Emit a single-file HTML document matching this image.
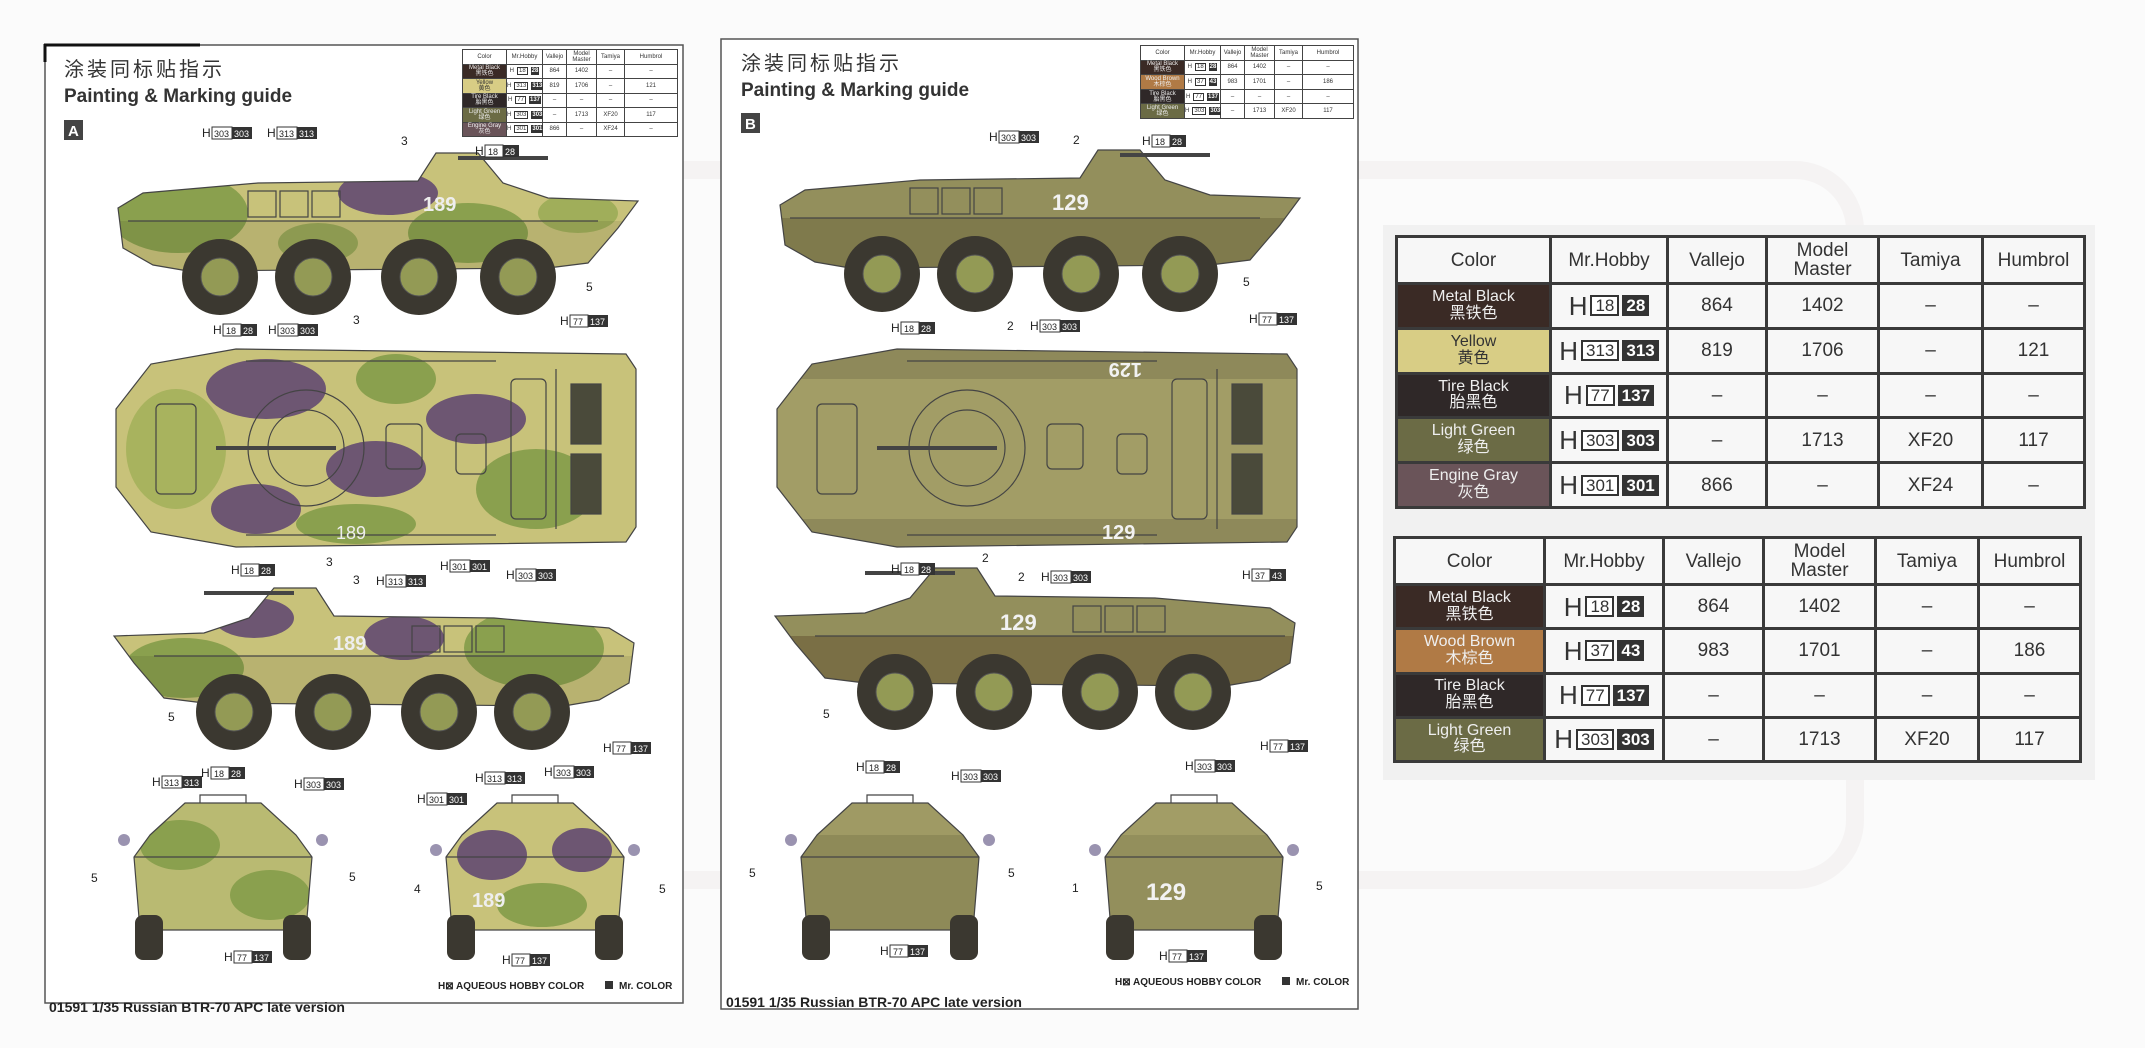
<!DOCTYPE html>
<html><head><meta charset="utf-8">
<style>
body{margin:0;width:2145px;height:1048px;overflow:hidden;background:#fbfbfb;position:relative;font-family:"Liberation Sans","Noto Sans CJK SC",sans-serif;}
.abs{position:absolute}
table{border-collapse:collapse;table-layout:fixed;}
.big td{border:3px solid #3a3a3a;text-align:center;color:#333;font-size:19px;background:#f7f7f7;padding:0;line-height:1}
.big .c{color:#eee;font-size:16px;line-height:1.05}
.mini td{border:1px solid #444;text-align:center;color:#333;font-size:6px;background:#fff;padding:0;line-height:1}
.mini .c{color:#eee}
.hb{display:inline-flex;align-items:center;gap:3px}
.hb b{font-weight:normal}
.hb .w{border:2px solid #333;background:#fff;padding:0 3px;font-size:17px}
.hb .k{background:#333;color:#fff;font-weight:bold;padding:2px 4px;font-size:17px}
.mini .hb .w{border:1px solid #333;padding:0 1px;font-size:6px}
.mini .hb .k{padding:1px 1px;font-size:6px}
</style></head><body>

<svg class="abs" style="left:0;top:0" width="2145" height="1048" viewBox="0 0 2145 1048">
<defs>
 <clipPath id="cs"><path d="M0,55 L25,40 L140,30 L300,28 L318,0 L360,0 L385,30 L430,45 L520,48 L500,75 L470,110 L430,115 L70,118 L35,112 L5,95 Z"/></clipPath>
 <clipPath id="ct"><path d="M0,60 L35,15 L120,0 L510,5 L520,20 L520,178 L510,193 L120,198 L35,183 L0,138 Z"/></clipPath>
 <clipPath id="cf"><path d="M30,40 L65,8 L141,8 L176,40 L192,62 L186,135 L20,135 L14,62 Z"/></clipPath>
 <g id="wheels">
  <g fill="#3b3830"><circle cx="102" cy="124" r="38"/><circle cx="195" cy="124" r="38"/><circle cx="301" cy="124" r="38"/><circle cx="400" cy="124" r="38"/></g>
  <g fill="#939a55" stroke="#555" stroke-width="1"><circle cx="102" cy="124" r="19"/><circle cx="195" cy="124" r="19"/><circle cx="301" cy="124" r="19"/><circle cx="400" cy="124" r="19"/></g>
 </g>
 <g id="sidedet" fill="none" stroke="#444" stroke-width="1.2">
  <path d="M0,55 L25,40 L140,30 L300,28 L318,0 L360,0 L385,30 L430,45 L520,48 L500,75 L470,110 L430,115 L70,118 L35,112 L5,95 Z"/>
  <path d="M10,68 L480,68"/><rect x="130" y="38" width="28" height="26"/><rect x="162" y="38" width="28" height="26"/><rect x="194" y="38" width="28" height="26"/>
  <path d="M340,5 L430,5" stroke-width="4"/>
 </g>
 <g id="topdet" fill="none" stroke="#444" stroke-width="1.2">
  <path d="M0,60 L35,15 L120,0 L510,5 L520,20 L520,178 L510,193 L120,198 L35,183 L0,138 Z"/>
  <circle cx="190" cy="99" r="58"/><circle cx="190" cy="99" r="38"/>
  <path d="M100,99 L220,99" stroke-width="4"/>
  <rect x="270" y="75" width="36" height="45" rx="5"/><rect x="340" y="85" width="30" height="40" rx="5"/>
  <rect x="395" y="30" width="35" height="140" rx="5"/>
  <rect x="455" y="35" width="30" height="60" fill="#4a4a3a"/><rect x="455" y="105" width="30" height="60" fill="#4a4a3a"/>
  <path d="M440,20 L440,180"/><rect x="40" y="55" width="40" height="90" rx="5"/><path d="M130,12 L380,12 M130,186 L380,186"/>
 </g>
 <g id="frontdet" fill="none" stroke="#444" stroke-width="1.2">
  <path d="M30,40 L65,8 L141,8 L176,40 L192,62 L186,135 L20,135 L14,62 Z"/>
  <path d="M14,62 L192,62 M80,8 L80,0 L126,0 L126,8"/>
 </g>
</defs>

<!-- faint watermark -->
<rect x="175" y="170" width="1680" height="710" rx="60" fill="none" stroke="#f5f3f3" stroke-width="18"/>

<!-- page frames -->
<rect x="45" y="45" width="638" height="958" fill="#fff" stroke="#555" stroke-width="1.5"/>
<path d="M44,45 L200,45" stroke="#111" stroke-width="3"/><path d="M45,44 L45,62" stroke="#111" stroke-width="3"/>
<rect x="721" y="39" width="637" height="970" fill="#fff" stroke="#555" stroke-width="1.5"/>

<!-- titles -->
<text x="64" y="76" font-size="20" fill="#333" font-family="Noto Sans CJK SC,sans-serif" letter-spacing="3">涂装同标贴指示</text>
<text x="64" y="102" font-size="19" font-weight="bold" fill="#333" font-family="Liberation Sans,sans-serif">Painting &amp; Marking guide</text>
<rect x="64" y="120" width="19" height="20" fill="#444"/><text x="68" y="136" font-size="15" font-weight="bold" fill="#fff">A</text>
<text x="741" y="70" font-size="20" fill="#333" font-family="Noto Sans CJK SC,sans-serif" letter-spacing="3">涂装同标贴指示</text>
<text x="741" y="96" font-size="19" font-weight="bold" fill="#333" font-family="Liberation Sans,sans-serif">Painting &amp; Marking guide</text>
<rect x="741" y="113" width="19" height="20" fill="#444"/><text x="745" y="129" font-size="15" font-weight="bold" fill="#fff">B</text>

<!-- LEFT PAGE VEHICLES (camo) -->
<g transform="translate(118,153)">
 <g clip-path="url(#cs)"><rect width="520" height="130" fill="#c8c27a"/>
  <ellipse cx="60" cy="60" rx="70" ry="40" fill="#8aa04e"/><ellipse cx="270" cy="40" rx="50" ry="22" fill="#6d5672"/><ellipse cx="350" cy="80" rx="60" ry="30" fill="#8aa04e"/><ellipse cx="200" cy="90" rx="40" ry="20" fill="#9aa858"/><ellipse cx="460" cy="60" rx="40" ry="20" fill="#a0ae5a"/>
  <rect y="68" width="520" height="60" fill="#000" opacity="0.08"/></g>
 <use href="#sidedet"/><use href="#wheels"/>
 <text x="305" y="58" font-size="20" fill="#eee" font-weight="bold">189</text>
</g>
<g transform="translate(116,349)">
 <g clip-path="url(#ct)"><rect width="520" height="198" fill="#c8c27a"/>
  <ellipse cx="150" cy="40" rx="60" ry="30" fill="#6d5672"/><ellipse cx="260" cy="120" rx="50" ry="28" fill="#6d5672"/><ellipse cx="140" cy="160" rx="45" ry="25" fill="#6d5672"/><ellipse cx="360" cy="70" rx="50" ry="25" fill="#6d5672"/><ellipse cx="420" cy="140" rx="60" ry="40" fill="#8aa04e"/><ellipse cx="60" cy="100" rx="50" ry="60" fill="#a8b35e"/><ellipse cx="280" cy="30" rx="40" ry="25" fill="#8aa04e"/><ellipse cx="240" cy="175" rx="60" ry="20" fill="#8aa04e"/>
 </g>
 <use href="#topdet"/>
 <text x="220" y="190" font-size="18" fill="#eee">189</text>
</g>
<g transform="translate(634,588) scale(-1,1)">
 <g clip-path="url(#cs)"><rect width="520" height="130" fill="#c8c27a"/>
  <ellipse cx="100" cy="60" rx="70" ry="40" fill="#8aa04e"/><ellipse cx="230" cy="50" rx="40" ry="22" fill="#6d5672"/><ellipse cx="380" cy="30" rx="40" ry="20" fill="#6d5672"/><ellipse cx="450" cy="80" rx="60" ry="30" fill="#8aa04e"/>
  <rect y="68" width="520" height="60" fill="#000" opacity="0.08"/></g>
 <use href="#sidedet"/><use href="#wheels"/>
</g>
<text x="333" y="650" font-size="20" fill="#eee" font-weight="bold">189</text>
<g transform="translate(120,795)">
 <g clip-path="url(#cf)"><rect width="206" height="140" fill="#b9ba72"/><ellipse cx="60" cy="50" rx="40" ry="25" fill="#8aa04e"/><ellipse cx="150" cy="100" rx="40" ry="25" fill="#8aa04e"/></g>
 <use href="#frontdet"/>
 <rect x="15" y="120" width="28" height="45" rx="8" fill="#3b3830"/><rect x="163" y="120" width="28" height="45" rx="8" fill="#3b3830"/>
 <circle cx="4" cy="45" r="6" fill="#9a93b0"/><circle cx="202" cy="45" r="6" fill="#9a93b0"/>
</g>
<g transform="translate(432,795)">
 <g clip-path="url(#cf)"><rect width="206" height="140" fill="#c8c27a"/><ellipse cx="60" cy="60" rx="35" ry="25" fill="#6d5672"/><ellipse cx="150" cy="55" rx="30" ry="22" fill="#6d5672"/><ellipse cx="110" cy="110" rx="45" ry="22" fill="#8aa04e"/></g>
 <use href="#frontdet"/>
 <rect x="15" y="120" width="28" height="45" rx="8" fill="#3b3830"/><rect x="163" y="120" width="28" height="45" rx="8" fill="#3b3830"/>
 <circle cx="4" cy="55" r="6" fill="#9a93b0"/><circle cx="202" cy="55" r="6" fill="#9a93b0"/>
 <text x="40" y="112" font-size="20" fill="#eee" font-weight="bold">189</text>
</g>

<!-- RIGHT PAGE VEHICLES (olive) -->
<g transform="translate(780,150)">
 <g clip-path="url(#cs)"><rect width="520" height="130" fill="#938f5c"/><rect y="68" width="520" height="60" fill="#7f7a4c"/></g>
 <use href="#sidedet"/><use href="#wheels"/>
 <text x="272" y="60" font-size="22" fill="#f2f2f2" font-weight="bold">129</text>
</g>
<g transform="translate(777,349)">
 <g clip-path="url(#ct)"><rect width="520" height="198" fill="#a29d66"/><rect y="0" width="520" height="30" fill="#8e895a"/><rect y="170" width="520" height="30" fill="#8e895a"/></g>
 <use href="#topdet"/>
 <text x="325" y="190" font-size="20" fill="#f2f2f2" font-weight="bold">129</text>
 <text x="325" y="30" font-size="20" fill="#f2f2f2" font-weight="bold" transform="rotate(180 345 22)">129</text>
</g>
<g transform="translate(1295,568) scale(-1,1)">
 <g clip-path="url(#cs)"><rect width="520" height="130" fill="#938f5c"/><rect y="68" width="520" height="60" fill="#7a6f45"/></g>
 <use href="#sidedet"/><use href="#wheels"/>
</g>
<text x="1000" y="630" font-size="22" fill="#f2f2f2" font-weight="bold">129</text>
<g transform="translate(787,795)">
 <g clip-path="url(#cf)"><rect width="206" height="140" fill="#8e8a58"/><rect y="0" width="206" height="40" fill="#9f9a64"/></g>
 <use href="#frontdet"/>
 <rect x="15" y="120" width="28" height="45" rx="8" fill="#3b3830"/><rect x="163" y="120" width="28" height="45" rx="8" fill="#3b3830"/>
 <circle cx="4" cy="45" r="6" fill="#9a93b0"/><circle cx="202" cy="45" r="6" fill="#9a93b0"/>
</g>
<g transform="translate(1091,795)">
 <g clip-path="url(#cf)"><rect width="206" height="140" fill="#938f5c"/><rect y="0" width="206" height="40" fill="#a29d66"/></g>
 <use href="#frontdet"/>
 <rect x="15" y="120" width="28" height="45" rx="8" fill="#3b3830"/><rect x="163" y="120" width="28" height="45" rx="8" fill="#3b3830"/>
 <circle cx="4" cy="55" r="6" fill="#9a93b0"/><circle cx="202" cy="55" r="6" fill="#9a93b0"/>
 <text x="55" y="105" font-size="24" fill="#f2f2f2" font-weight="bold">129</text>
</g>

<g font-family="Liberation Sans,sans-serif" font-size="12" fill="#222">
 <!-- left page -->
 <g transform="translate(202,137)"><text>H</text><rect x="10" y="-10" width="20" height="12" fill="#fff" stroke="#333"/><text x="12" y="0" font-size="9">303</text><rect x="30" y="-10" width="20" height="12" fill="#333"/><text x="32" y="0" font-size="9" fill="#fff">303</text></g>
 <g transform="translate(267,137)"><text>H</text><rect x="10" y="-10" width="20" height="12" fill="#fff" stroke="#333"/><text x="12" y="0" font-size="9">313</text><rect x="30" y="-10" width="20" height="12" fill="#333"/><text x="32" y="0" font-size="9" fill="#fff">313</text></g>
 <text x="401" y="145">3</text>
 <g transform="translate(475,155)"><text>H</text><rect x="10" y="-10" width="18" height="12" fill="#fff" stroke="#333"/><text x="13" y="0" font-size="9">18</text><rect x="28" y="-10" width="16" height="12" fill="#333"/><text x="30" y="0" font-size="9" fill="#fff">28</text></g>
 <text x="586" y="291">5</text>
 <g transform="translate(560,325)"><text>H</text><rect x="10" y="-10" width="18" height="12" fill="#fff" stroke="#333"/><text x="13" y="0" font-size="9">77</text><rect x="28" y="-10" width="20" height="12" fill="#333"/><text x="30" y="0" font-size="9" fill="#fff">137</text></g>
 <g transform="translate(213,334)"><text>H</text><rect x="10" y="-10" width="18" height="12" fill="#fff" stroke="#333"/><text x="13" y="0" font-size="9">18</text><rect x="28" y="-10" width="16" height="12" fill="#333"/><text x="30" y="0" font-size="9" fill="#fff">28</text></g>
 <g transform="translate(268,334)"><text>H</text><rect x="10" y="-10" width="20" height="12" fill="#fff" stroke="#333"/><text x="12" y="0" font-size="9">303</text><rect x="30" y="-10" width="20" height="12" fill="#333"/><text x="32" y="0" font-size="9" fill="#fff">303</text></g>
 <text x="353" y="324">3</text><text x="326" y="566">3</text>
 <g transform="translate(231,574)"><text>H</text><rect x="10" y="-10" width="18" height="12" fill="#fff" stroke="#333"/><text x="13" y="0" font-size="9">18</text><rect x="28" y="-10" width="16" height="12" fill="#333"/><text x="30" y="0" font-size="9" fill="#fff">28</text></g>
 <text x="353" y="584">3</text>
 <g transform="translate(376,585)"><text>H</text><rect x="10" y="-10" width="20" height="12" fill="#fff" stroke="#333"/><text x="12" y="0" font-size="9">313</text><rect x="30" y="-10" width="20" height="12" fill="#333"/><text x="32" y="0" font-size="9" fill="#fff">313</text></g>
 <g transform="translate(440,570)"><text>H</text><rect x="10" y="-10" width="20" height="12" fill="#fff" stroke="#333"/><text x="12" y="0" font-size="9">301</text><rect x="30" y="-10" width="20" height="12" fill="#333"/><text x="32" y="0" font-size="9" fill="#fff">301</text></g>
 <g transform="translate(506,579)"><text>H</text><rect x="10" y="-10" width="20" height="12" fill="#fff" stroke="#333"/><text x="12" y="0" font-size="9">303</text><rect x="30" y="-10" width="20" height="12" fill="#333"/><text x="32" y="0" font-size="9" fill="#fff">303</text></g>
 <text x="168" y="721">5</text>
 <g transform="translate(603,752)"><text>H</text><rect x="10" y="-10" width="18" height="12" fill="#fff" stroke="#333"/><text x="13" y="0" font-size="9">77</text><rect x="28" y="-10" width="20" height="12" fill="#333"/><text x="30" y="0" font-size="9" fill="#fff">137</text></g>
 <g transform="translate(152,786)"><text>H</text><rect x="10" y="-10" width="20" height="12" fill="#fff" stroke="#333"/><text x="12" y="0" font-size="9">313</text><rect x="30" y="-10" width="20" height="12" fill="#333"/><text x="32" y="0" font-size="9" fill="#fff">313</text></g>
 <g transform="translate(201,777)"><text>H</text><rect x="10" y="-10" width="18" height="12" fill="#fff" stroke="#333"/><text x="13" y="0" font-size="9">18</text><rect x="28" y="-10" width="16" height="12" fill="#333"/><text x="30" y="0" font-size="9" fill="#fff">28</text></g>
 <g transform="translate(294,788)"><text>H</text><rect x="10" y="-10" width="20" height="12" fill="#fff" stroke="#333"/><text x="12" y="0" font-size="9">303</text><rect x="30" y="-10" width="20" height="12" fill="#333"/><text x="32" y="0" font-size="9" fill="#fff">303</text></g>
 <text x="91" y="882">5</text><text x="349" y="881">5</text>
 <g transform="translate(417,803)"><text>H</text><rect x="10" y="-10" width="20" height="12" fill="#fff" stroke="#333"/><text x="12" y="0" font-size="9">301</text><rect x="30" y="-10" width="20" height="12" fill="#333"/><text x="32" y="0" font-size="9" fill="#fff">301</text></g>
 <g transform="translate(475,782)"><text>H</text><rect x="10" y="-10" width="20" height="12" fill="#fff" stroke="#333"/><text x="12" y="0" font-size="9">313</text><rect x="30" y="-10" width="20" height="12" fill="#333"/><text x="32" y="0" font-size="9" fill="#fff">313</text></g>
 <g transform="translate(544,776)"><text>H</text><rect x="10" y="-10" width="20" height="12" fill="#fff" stroke="#333"/><text x="12" y="0" font-size="9">303</text><rect x="30" y="-10" width="20" height="12" fill="#333"/><text x="32" y="0" font-size="9" fill="#fff">303</text></g>
 <text x="414" y="893">4</text><text x="659" y="893">5</text>
 <g transform="translate(224,961)"><text>H</text><rect x="10" y="-10" width="18" height="12" fill="#fff" stroke="#333"/><text x="13" y="0" font-size="9">77</text><rect x="28" y="-10" width="20" height="12" fill="#333"/><text x="30" y="0" font-size="9" fill="#fff">137</text></g>
 <g transform="translate(502,964)"><text>H</text><rect x="10" y="-10" width="18" height="12" fill="#fff" stroke="#333"/><text x="13" y="0" font-size="9">77</text><rect x="28" y="-10" width="20" height="12" fill="#333"/><text x="30" y="0" font-size="9" fill="#fff">137</text></g>
 <!-- right page -->
 <g transform="translate(989,141)"><text>H</text><rect x="10" y="-10" width="20" height="12" fill="#fff" stroke="#333"/><text x="12" y="0" font-size="9">303</text><rect x="30" y="-10" width="20" height="12" fill="#333"/><text x="32" y="0" font-size="9" fill="#fff">303</text></g>
 <text x="1073" y="144">2</text>
 <g transform="translate(1142,145)"><text>H</text><rect x="10" y="-10" width="18" height="12" fill="#fff" stroke="#333"/><text x="13" y="0" font-size="9">18</text><rect x="28" y="-10" width="16" height="12" fill="#333"/><text x="30" y="0" font-size="9" fill="#fff">28</text></g>
 <text x="1243" y="286">5</text>
 <g transform="translate(1249,323)"><text>H</text><rect x="10" y="-10" width="18" height="12" fill="#fff" stroke="#333"/><text x="13" y="0" font-size="9">77</text><rect x="28" y="-10" width="20" height="12" fill="#333"/><text x="30" y="0" font-size="9" fill="#fff">137</text></g>
 <g transform="translate(891,332)"><text>H</text><rect x="10" y="-10" width="18" height="12" fill="#fff" stroke="#333"/><text x="13" y="0" font-size="9">18</text><rect x="28" y="-10" width="16" height="12" fill="#333"/><text x="30" y="0" font-size="9" fill="#fff">28</text></g>
 <text x="1007" y="330">2</text>
 <g transform="translate(1030,330)"><text>H</text><rect x="10" y="-10" width="20" height="12" fill="#fff" stroke="#333"/><text x="12" y="0" font-size="9">303</text><rect x="30" y="-10" width="20" height="12" fill="#333"/><text x="32" y="0" font-size="9" fill="#fff">303</text></g>
 <text x="982" y="562">2</text>
 <g transform="translate(891,573)"><text>H</text><rect x="10" y="-10" width="18" height="12" fill="#fff" stroke="#333"/><text x="13" y="0" font-size="9">18</text><rect x="28" y="-10" width="16" height="12" fill="#333"/><text x="30" y="0" font-size="9" fill="#fff">28</text></g>
 <text x="1018" y="581">2</text>
 <g transform="translate(1041,581)"><text>H</text><rect x="10" y="-10" width="20" height="12" fill="#fff" stroke="#333"/><text x="12" y="0" font-size="9">303</text><rect x="30" y="-10" width="20" height="12" fill="#333"/><text x="32" y="0" font-size="9" fill="#fff">303</text></g>
 <g transform="translate(1242,579)"><text>H</text><rect x="10" y="-10" width="18" height="12" fill="#fff" stroke="#333"/><text x="13" y="0" font-size="9">37</text><rect x="28" y="-10" width="16" height="12" fill="#333"/><text x="30" y="0" font-size="9" fill="#fff">43</text></g>
 <text x="823" y="718">5</text>
 <g transform="translate(1260,750)"><text>H</text><rect x="10" y="-10" width="18" height="12" fill="#fff" stroke="#333"/><text x="13" y="0" font-size="9">77</text><rect x="28" y="-10" width="20" height="12" fill="#333"/><text x="30" y="0" font-size="9" fill="#fff">137</text></g>
 <g transform="translate(856,771)"><text>H</text><rect x="10" y="-10" width="18" height="12" fill="#fff" stroke="#333"/><text x="13" y="0" font-size="9">18</text><rect x="28" y="-10" width="16" height="12" fill="#333"/><text x="30" y="0" font-size="9" fill="#fff">28</text></g>
 <g transform="translate(951,780)"><text>H</text><rect x="10" y="-10" width="20" height="12" fill="#fff" stroke="#333"/><text x="12" y="0" font-size="9">303</text><rect x="30" y="-10" width="20" height="12" fill="#333"/><text x="32" y="0" font-size="9" fill="#fff">303</text></g>
 <text x="749" y="877">5</text><text x="1008" y="877">5</text>
 <g transform="translate(1185,770)"><text>H</text><rect x="10" y="-10" width="20" height="12" fill="#fff" stroke="#333"/><text x="12" y="0" font-size="9">303</text><rect x="30" y="-10" width="20" height="12" fill="#333"/><text x="32" y="0" font-size="9" fill="#fff">303</text></g>
 <text x="1072" y="892">1</text><text x="1316" y="890">5</text>
 <g transform="translate(880,955)"><text>H</text><rect x="10" y="-10" width="18" height="12" fill="#fff" stroke="#333"/><text x="13" y="0" font-size="9">77</text><rect x="28" y="-10" width="20" height="12" fill="#333"/><text x="30" y="0" font-size="9" fill="#fff">137</text></g>
 <g transform="translate(1159,960)"><text>H</text><rect x="10" y="-10" width="18" height="12" fill="#fff" stroke="#333"/><text x="13" y="0" font-size="9">77</text><rect x="28" y="-10" width="20" height="12" fill="#333"/><text x="30" y="0" font-size="9" fill="#fff">137</text></g>
</g>

<!-- footers -->
<g font-family="Liberation Sans,sans-serif" fill="#222">
 <text x="438" y="989" font-size="10" font-weight="bold">H⊠ AQUEOUS HOBBY COLOR</text>
 <rect x="605" y="981" width="8" height="8" fill="#333"/><text x="619" y="989" font-size="10" font-weight="bold">Mr. COLOR</text>
 <text x="1115" y="985" font-size="10" font-weight="bold">H⊠ AQUEOUS HOBBY COLOR</text>
 <rect x="1282" y="977" width="8" height="8" fill="#333"/><text x="1296" y="985" font-size="10" font-weight="bold">Mr. COLOR</text>
 <text x="49" y="1012" font-size="14" font-weight="bold">01591  1/35 Russian BTR-70 APC late version</text>
 <text x="726" y="1007" font-size="14" font-weight="bold">01591  1/35 Russian BTR-70 APC late version</text>
</g>
</svg>

<!-- mini table left -->
<table class="mini abs" style="left:462px;top:49px;width:216px;height:88px">
<colgroup><col style="width:44px"><col style="width:36px"><col style="width:24px"><col style="width:30px"><col style="width:28px"><col></colgroup>
<tr><td>Color</td><td>Mr.Hobby</td><td>Vallejo</td><td>Model Master</td><td>Tamiya</td><td>Humbrol</td></tr>
<tr><td class="c" style="background:#3a2a25">Metal Black<br>黑铁色</td><td><span class="hb">H<span class="w">18</span><span class="k">28</span></span></td><td>864</td><td>1402</td><td>–</td><td>–</td></tr>
<tr><td class="c" style="background:#d8cd85;color:#333">Yellow<br>黄色</td><td><span class="hb">H<span class="w">313</span><span class="k">313</span></span></td><td>819</td><td>1706</td><td>–</td><td>121</td></tr>
<tr><td class="c" style="background:#2f2828">Tire Black<br>胎黑色</td><td><span class="hb">H<span class="w">77</span><span class="k">137</span></span></td><td>–</td><td>–</td><td>–</td><td>–</td></tr>
<tr><td class="c" style="background:#6b6b45">Light Green<br>绿色</td><td><span class="hb">H<span class="w">303</span><span class="k">303</span></span></td><td>–</td><td>1713</td><td>XF20</td><td>117</td></tr>
<tr><td class="c" style="background:#6a5459">Engine Gray<br>灰色</td><td><span class="hb">H<span class="w">301</span><span class="k">301</span></span></td><td>866</td><td>–</td><td>XF24</td><td>–</td></tr>
</table>
<!-- mini table right -->
<table class="mini abs" style="left:1140px;top:45px;width:214px;height:74px">
<colgroup><col style="width:44px"><col style="width:36px"><col style="width:24px"><col style="width:30px"><col style="width:28px"><col></colgroup>
<tr><td>Color</td><td>Mr.Hobby</td><td>Vallejo</td><td>Model Master</td><td>Tamiya</td><td>Humbrol</td></tr>
<tr><td class="c" style="background:#3a2a25">Metal Black<br>黑铁色</td><td><span class="hb">H<span class="w">18</span><span class="k">28</span></span></td><td>864</td><td>1402</td><td>–</td><td>–</td></tr>
<tr><td class="c" style="background:#b07a45">Wood Brown<br>木棕色</td><td><span class="hb">H<span class="w">37</span><span class="k">43</span></span></td><td>983</td><td>1701</td><td>–</td><td>186</td></tr>
<tr><td class="c" style="background:#2f2828">Tire Black<br>胎黑色</td><td><span class="hb">H<span class="w">77</span><span class="k">137</span></span></td><td>–</td><td>–</td><td>–</td><td>–</td></tr>
<tr><td class="c" style="background:#6b6b45">Light Green<br>绿色</td><td><span class="hb">H<span class="w">303</span><span class="k">303</span></span></td><td>–</td><td>1713</td><td>XF20</td><td>117</td></tr>
</table>

<!-- big tables -->
<div class="abs" style="left:1383px;top:225px;width:712px;height:555px;background:#f1f1f1"></div>
<table class="big abs" style="left:1395px;top:235px;width:691px;height:274px">
<colgroup><col style="width:154px"><col style="width:117px"><col style="width:99px"><col style="width:112px"><col style="width:104px"><col></colgroup>
<tr style="height:47px"><td>Color</td><td>Mr.Hobby</td><td>Vallejo</td><td>Model<br>Master</td><td>Tamiya</td><td>Humbrol</td></tr>
<tr><td class="c" style="background:#3a2a25">Metal Black<br>黑铁色</td><td><span class="hb"><b style="font-size:26px">H</b><span class="w">18</span><span class="k">28</span></span></td><td>864</td><td>1402</td><td>–</td><td>–</td></tr>
<tr><td class="c" style="background:#d8cd85;color:#333">Yellow<br>黄色</td><td><span class="hb"><b style="font-size:26px">H</b><span class="w">313</span><span class="k">313</span></span></td><td>819</td><td>1706</td><td>–</td><td>121</td></tr>
<tr><td class="c" style="background:#2f2828">Tire Black<br>胎黑色</td><td><span class="hb"><b style="font-size:26px">H</b><span class="w">77</span><span class="k">137</span></span></td><td>–</td><td>–</td><td>–</td><td>–</td></tr>
<tr><td class="c" style="background:#6b6b45">Light Green<br>绿色</td><td><span class="hb"><b style="font-size:26px">H</b><span class="w">303</span><span class="k">303</span></span></td><td>–</td><td>1713</td><td>XF20</td><td>117</td></tr>
<tr><td class="c" style="background:#6a5459">Engine Gray<br>灰色</td><td><span class="hb"><b style="font-size:26px">H</b><span class="w">301</span><span class="k">301</span></span></td><td>866</td><td>–</td><td>XF24</td><td>–</td></tr>
</table>
<table class="big abs" style="left:1393px;top:536px;width:689px;height:227px">
<colgroup><col style="width:150px"><col style="width:119px"><col style="width:100px"><col style="width:112px"><col style="width:103px"><col></colgroup>
<tr style="height:47px"><td>Color</td><td>Mr.Hobby</td><td>Vallejo</td><td>Model<br>Master</td><td>Tamiya</td><td>Humbrol</td></tr>
<tr><td class="c" style="background:#3a2a25">Metal Black<br>黑铁色</td><td><span class="hb"><b style="font-size:26px">H</b><span class="w">18</span><span class="k">28</span></span></td><td>864</td><td>1402</td><td>–</td><td>–</td></tr>
<tr><td class="c" style="background:#b07a45">Wood Brown<br>木棕色</td><td><span class="hb"><b style="font-size:26px">H</b><span class="w">37</span><span class="k">43</span></span></td><td>983</td><td>1701</td><td>–</td><td>186</td></tr>
<tr><td class="c" style="background:#2f2828">Tire Black<br>胎黑色</td><td><span class="hb"><b style="font-size:26px">H</b><span class="w">77</span><span class="k">137</span></span></td><td>–</td><td>–</td><td>–</td><td>–</td></tr>
<tr><td class="c" style="background:#6b6b45">Light Green<br>绿色</td><td><span class="hb"><b style="font-size:26px">H</b><span class="w">303</span><span class="k">303</span></span></td><td>–</td><td>1713</td><td>XF20</td><td>117</td></tr>
</table>
</body></html>
